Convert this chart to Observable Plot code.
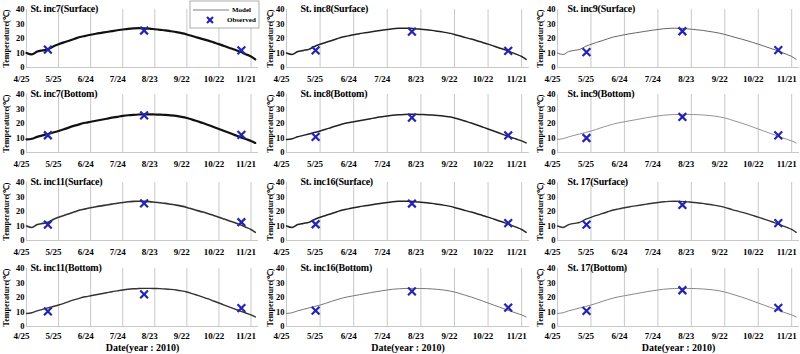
<!DOCTYPE html>
<html><head><meta charset="utf-8">
<script src="https://cdn.jsdelivr.net/npm/d3@7"></script>
<script src="https://cdn.jsdelivr.net/npm/@observablehq/plot@0.6"></script>
<style>
body{margin:0;background:#fff;}
#chart{position:relative;width:800px;height:354px;overflow:hidden;background:#fff;font-family:"Liberation Serif","Times New Roman",serif;}
#chart svg{position:absolute;}
</style></head><body><div id="chart"></div>
<script>
const panelTitles = [
  "St. inc7(Surface)", "St. inc8(Surface)", "St. inc9(Surface)",
  "St. inc7(Bottom)", "St. inc8(Bottom)", "St. inc9(Bottom)",
  "St. inc11(Surface)", "St. inc16(Surface)", "St. 17(Surface)",
  "St. inc11(Bottom)", "St. inc16(Bottom)", "St. 17(Bottom)"
];
const modelDates = ["2010-04-25","2010-04-30","2010-05-05","2010-05-10","2010-05-15","2010-05-20","2010-05-25","2010-05-30","2010-06-04","2010-06-09","2010-06-14","2010-06-19","2010-06-24","2010-06-29","2010-07-04","2010-07-09","2010-07-14","2010-07-19","2010-07-24","2010-07-29","2010-08-03","2010-08-08","2010-08-13","2010-08-18","2010-08-23","2010-08-28","2010-09-02","2010-09-07","2010-09-12","2010-09-17","2010-09-22","2010-09-27","2010-10-02","2010-10-07","2010-10-12","2010-10-17","2010-10-22","2010-10-27","2010-11-01","2010-11-06","2010-11-11","2010-11-16","2010-11-21","2010-11-25"];
const modelSurface = [10.0,9.0,11.0,11.8,12.5,14.5,16.0,17.3,18.5,19.8,21.0,21.8,22.6,23.3,23.9,24.5,25.1,25.7,26.2,26.7,27.0,27.1,27.0,26.8,26.4,26.0,25.6,25.0,24.4,23.7,22.8,21.7,20.6,19.6,18.5,17.3,16.1,14.8,13.5,12.2,10.8,9.2,7.6,5.6];
const modelBottom = [9.0,9.5,10.8,11.8,12.8,13.8,14.8,16.0,17.3,18.5,19.6,20.5,21.2,21.9,22.6,23.3,24.0,24.6,25.2,25.7,26.0,26.2,26.3,26.3,26.2,26.1,25.9,25.6,25.2,24.6,23.8,22.7,21.5,20.3,19.0,17.6,16.2,14.8,13.4,12.0,10.6,9.3,8.0,6.6];
const obsDatesCol1 = ["2010-05-15","2010-08-13","2010-11-12"];
const obsDatesCol23 = ["2010-05-21","2010-08-15","2010-11-09"];
const observed = [
  [12.3,25.5,11.8], [11.8,24.8,11.5], [10.6,25.0,12.0],
  [11.9,25.6,12.1], [10.8,24.0,11.8], [10.0,24.5,11.8],
  [11.0,25.6,12.6], [11.2,25.5,12.0], [11.0,24.5,12.0],
  [10.4,22.2,12.7], [11.0,24.2,13.0], [10.8,25.0,12.9]
];
const tickDates = ["2010-04-25","2010-05-25","2010-06-24","2010-07-24","2010-08-23","2010-09-22","2010-10-22","2010-11-21"];
const tickLabels = ["4/25","5/25","6/24","7/24","8/23","9/22","10/22","11/21"];
const yTicks = [0,10,20,30,40];
const legendLabels = ["Model","Observed"];
const yTitle = "Temperature(\u2103)";
const xTitle = "Date(year : 2010)";

const parse = s => new Date(s + "T00:00:00Z");
const labelMap = new Map(tickDates.map((d,i)=>[+parse(d), tickLabels[i]]));
const xDomain = [parse("2010-04-25"), parse("2010-11-28")];

const cols = [
  {left:0, width:262, ml:26, mr:4, titleDx:4, yTitleDx:-20.5},
  {left:262, width:270, ml:24, mr:3, titleDx:14, yTitleDx:-16},
  {left:532, width:268, ml:25, mr:1, titleDx:10, yTitleDx:-17}
];
const rows = [{top:0,h:86},{top:85,h:86},{top:173,h:86},{top:259,h:95}];
const lineStyles = [
  {w:2.2,c:"#111"},{w:1.5,c:"#222"},{w:1.0,c:"#666"},
  {w:2.2,c:"#111"},{w:1.5,c:"#222"},{w:0.9,c:"#888"},
  {w:1.6,c:"#333"},{w:1.5,c:"#222"},{w:1.4,c:"#333"},
  {w:1.4,c:"#333"},{w:1.0,c:"#777"},{w:1.0,c:"#888"}
];
const FONT = "'Liberation Serif','Times New Roman',serif";
const chart = document.getElementById("chart");

panelTitles.forEach((title, i) => {
  const r = Math.floor(i/3), c = i % 3;
  const col = cols[c], row = rows[r];
  const last = r === 3;
  const vals = (r % 2 === 1) ? modelBottom : modelSurface;
  const model = modelDates.map((d,k)=>({date: parse(d), t: vals[k]}));
  const od = c === 0 ? obsDatesCol1 : obsDatesCol23;
  const obs = od.map((d,k)=>({date: parse(d), t: observed[i][k]}));
  const st = lineStyles[i];
  const svg = Plot.plot({
    width: col.width, height: row.h,
    marginLeft: col.ml, marginRight: col.mr, marginTop: 9, marginBottom: row.h - 9 - 58,
    x: {type:"utc", domain: xDomain},
    y: {domain:[0,40]},
    style: {fontFamily: FONT, fontWeight: "bold", background: "transparent", overflow: "visible", color:"#000"},
    marks: [
      Plot.ruleY([0], {stroke:"#c8c8c8"}),
      Plot.ruleX([xDomain[0]], {stroke:"#c8c8c8"}),
      Plot.axisY({ticks: yTicks, tickSize: 0, tickPadding: 2, fontSize: 8.5, label: null}),
      Plot.axisX({ticks: tickDates.map(parse), tickFormat: d => labelMap.get(+d), tickSize: 0, tickPadding: last ? 6 : 8, dx: -5, fontSize: 9, label: null}),
      Plot.tickX(tickDates.map(parse), {x: d=>d, y1: 0, y2: 0, stroke:"#c8c8c8"}),
      Plot.line(model, {x:"date", y:"t", stroke: st.c, strokeWidth: st.w, curve:"monotone-x"}),
      Plot.dot(obs, {x:"date", y:"t", symbol:"times", r:3.6, stroke:"#2424b0", strokeWidth:2.2}),
      Plot.text([title], {frameAnchor:"top-left", textAnchor:"start", lineAnchor:"middle", dx: col.titleDx, dy: -1, fontSize: 10, letterSpacing: "-0.2px", text: d=>d}),
      Plot.text([yTitle], {frameAnchor:"left", textAnchor:"middle", lineAnchor:"middle", rotate:-90, dx: col.yTitleDx, fontSize: 8, text: d=>d}),
      last ? Plot.text([xTitle], {frameAnchor:"bottom", textAnchor:"middle", lineAnchor:"middle", dy: 21.5, fontSize: 10, text: d=>d}) : null
    ]
  });
  svg.querySelectorAll("text").forEach(t => { if (t.textContent.startsWith("St.")) t.setAttribute("letter-spacing", "-0.2"); });
  svg.style.left = col.left + "px";
  svg.style.top = row.top + "px";
  chart.appendChild(svg);
});

// legend (panel 1)
const leg = d3.create("svg").attr("width", 72).attr("height", 30)
  .style("left","189px").style("top","0px")
  .style("font-family", FONT).style("font-weight","bold");
leg.append("rect").attr("x",1).attr("y",1).attr("width",69).attr("height",27).attr("fill","#fff").attr("stroke","#999").attr("stroke-width",0.8);
leg.append("line").attr("x1",4).attr("x2",40).attr("y1",10).attr("y2",10).attr("stroke","#aaa").attr("stroke-width",1.5);
leg.append("text").attr("x",43).attr("y",10).attr("dy","0.35em").attr("font-size",7).text(legendLabels[0]);
const X = leg.append("g").attr("transform","translate(21,20)").attr("stroke","#2424b0").attr("stroke-width",2.2);
X.append("line").attr("x1",-3).attr("y1",-3).attr("x2",3).attr("y2",3);
X.append("line").attr("x1",-3).attr("y1",3).attr("x2",3).attr("y2",-3);
leg.append("text").attr("x",38).attr("y",20).attr("dy","0.35em").attr("font-size",7).text(legendLabels[1]);
chart.appendChild(leg.node());
</script></body></html>
